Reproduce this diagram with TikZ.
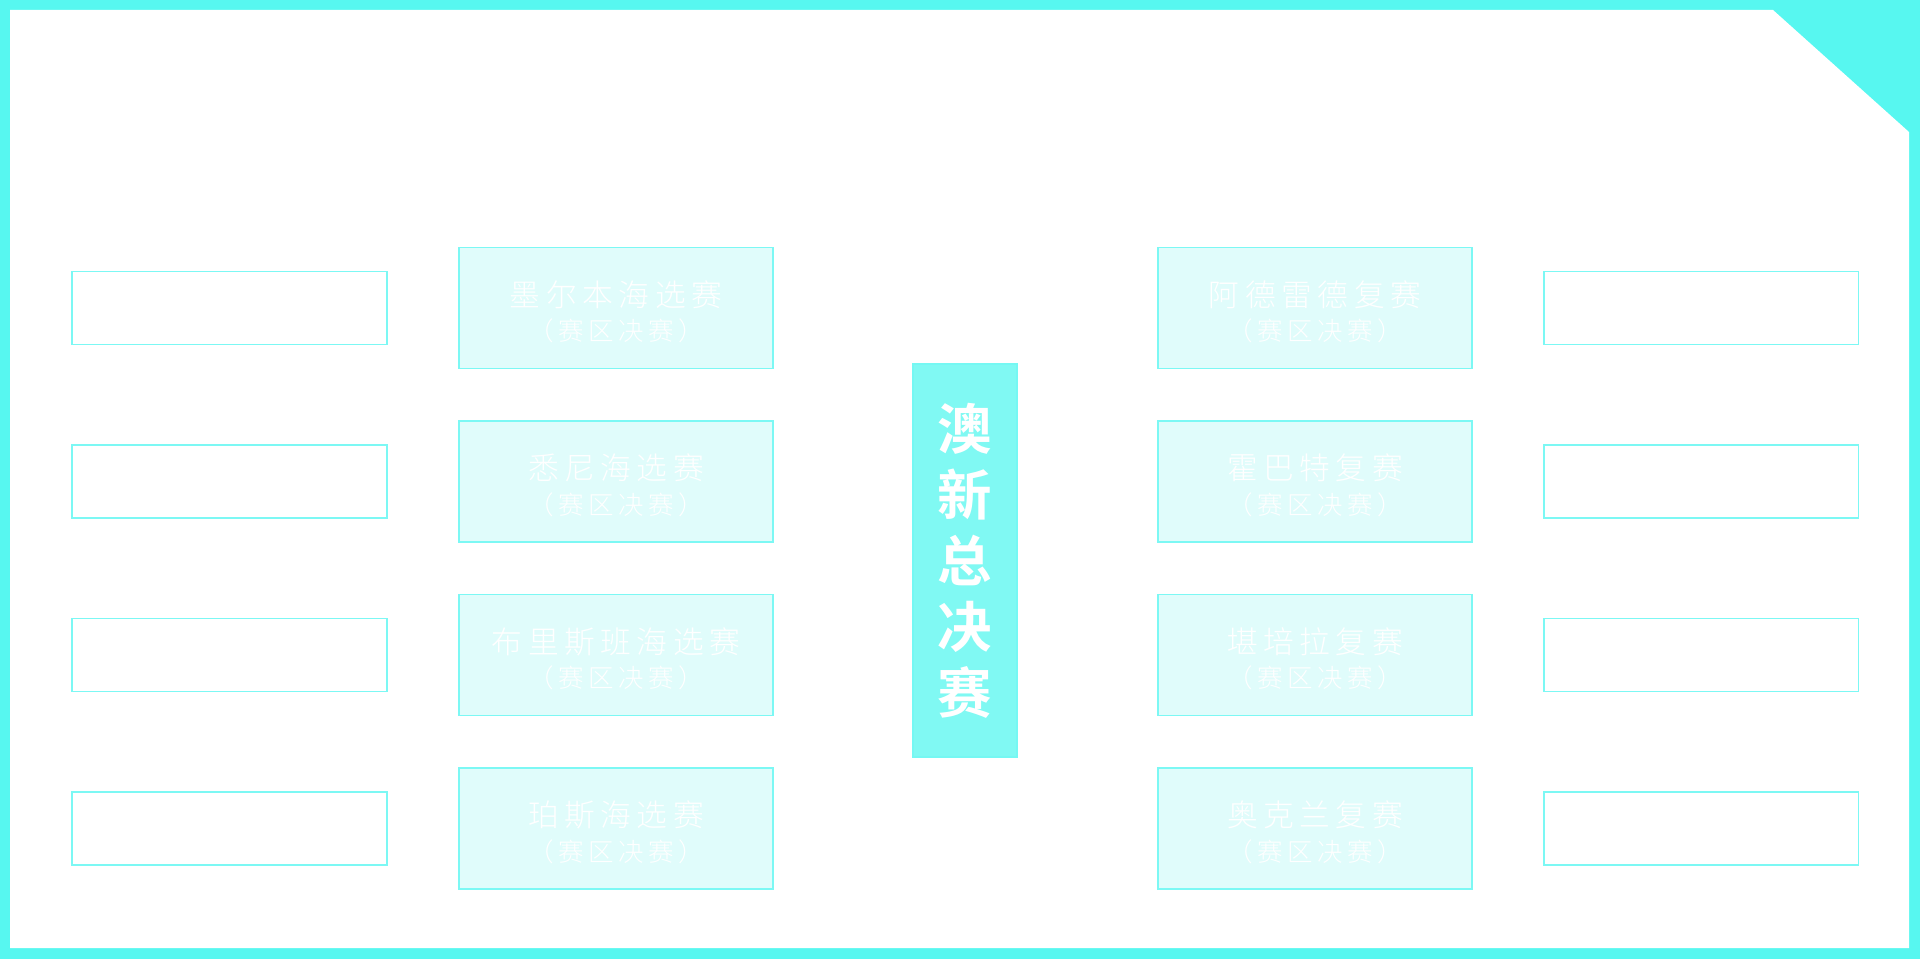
\documentclass[tikz,border=0pt]{standalone}
\usepackage{fontspec}
\usepackage{tikz}
\usetikzlibrary{positioning}
\newfontfamily\cjkthin[LetterSpace=18]{Noto Sans CJK SC Light}
\newfontfamily\cjkbold{Noto Sans CJK SC Bold}
\definecolor{FrameCyan}{HTML}{57F7F0}
\definecolor{LineCyan}{HTML}{7CF8F4}
\definecolor{PaleCyan}{HTML}{E0FCFB}
\definecolor{MidCyan}{HTML}{80F9F3}

\tikzset{
  slotbox/.style={draw=LineCyan, line width=1.1pt, minimum width=6.3cm, minimum height=1.46cm, inner sep=0pt},
  heatbox/.style={draw=LineCyan, fill=PaleCyan, line width=1.1pt, minimum width=6.28cm, minimum height=2.42cm, inner sep=0pt},
  heattitle/.style={text=white, inner sep=0pt, font=\cjkthin\fontsize{17.5}{20}\selectfont},
  heatsub/.style={text=white, inner sep=0pt, font=\cjkthin\fontsize{14.5}{18}\selectfont},
  finalbox/.style={draw=LineCyan!80!FrameCyan, fill=MidCyan, line width=1.1pt, minimum width=2.08cm, minimum height=7.86cm,
    inner sep=0pt, align=center, text=white, font=\cjkbold\fontsize{31}{37.6}\selectfont}
}

\begin{document}
\begin{tikzpicture}[x=0.02cm, y=-0.02cm]
        % 边框
        \fill[FrameCyan] (0,0) rectangle (1920,959);
        \fill[white] (10,10) -- (1773,10) -- (1909,132) -- (1909,948) -- (10,948) -- cycle;
        % 左侧空格
        \node[slotbox] (ls1) at (229.5,308) {};
        \node[slotbox] (ls2) at (229.5,481.5) {};
        \node[slotbox] (ls3) at (229.5,655) {};
        \node[slotbox] (ls4) at (229.5,828.5) {};
        % 海选赛
        \node[heatbox] (lh1) at (616,308) {};
        \node[heatbox] (lh2) at (616,481.5) {};
        \node[heatbox] (lh3) at (616,655) {};
        \node[heatbox] (lh4) at (616,828.5) {};
        \node[heattitle] (lt1) at ([yshift=0.27cm]lh1.center) {墨尔本海选赛};
        \node[heattitle] (lt2) at ([yshift=0.27cm]lh2.center) {悉尼海选赛};
        \node[heattitle] (lt3) at ([yshift=0.27cm]lh3.center) {布里斯班海选赛};
        \node[heattitle] (lt4) at ([yshift=0.27cm]lh4.center) {珀斯海选赛};
        \node[heatsub] (lb1) at ([yshift=-0.46cm]lh1.center) {（赛区决赛）};
        \node[heatsub] (lb2) at ([yshift=-0.46cm]lh2.center) {（赛区决赛）};
        \node[heatsub] (lb3) at ([yshift=-0.46cm]lh3.center) {（赛区决赛）};
        \node[heatsub] (lb4) at ([yshift=-0.46cm]lh4.center) {（赛区决赛）};
        % 总决赛
        \node[finalbox] (final) at (965,560.5) {澳\\新\\总\\决\\赛};
        % 复赛
        \node[heatbox] (rh1) at (1315,308) {};
        \node[heatbox] (rh2) at (1315,481.5) {};
        \node[heatbox] (rh3) at (1315,655) {};
        \node[heatbox] (rh4) at (1315,828.5) {};
        \node[heattitle] (rt1) at ([yshift=0.27cm]rh1.center) {阿德雷德复赛};
        \node[heattitle] (rt2) at ([yshift=0.27cm]rh2.center) {霍巴特复赛};
        \node[heattitle] (rt3) at ([yshift=0.27cm]rh3.center) {堪培拉复赛};
        \node[heattitle] (rt4) at ([yshift=0.27cm]rh4.center) {奥克兰复赛};
        \node[heatsub] (rb1) at ([yshift=-0.46cm]rh1.center) {（赛区决赛）};
        \node[heatsub] (rb2) at ([yshift=-0.46cm]rh2.center) {（赛区决赛）};
        \node[heatsub] (rb3) at ([yshift=-0.46cm]rh3.center) {（赛区决赛）};
        \node[heatsub] (rb4) at ([yshift=-0.46cm]rh4.center) {（赛区决赛）};
        % 右侧空格
        \node[slotbox] (rs1) at (1701,308) {};
        \node[slotbox] (rs2) at (1701,481.5) {};
        \node[slotbox] (rs3) at (1701,655) {};
        \node[slotbox] (rs4) at (1701,828.5) {};
\end{tikzpicture}
\end{document}
